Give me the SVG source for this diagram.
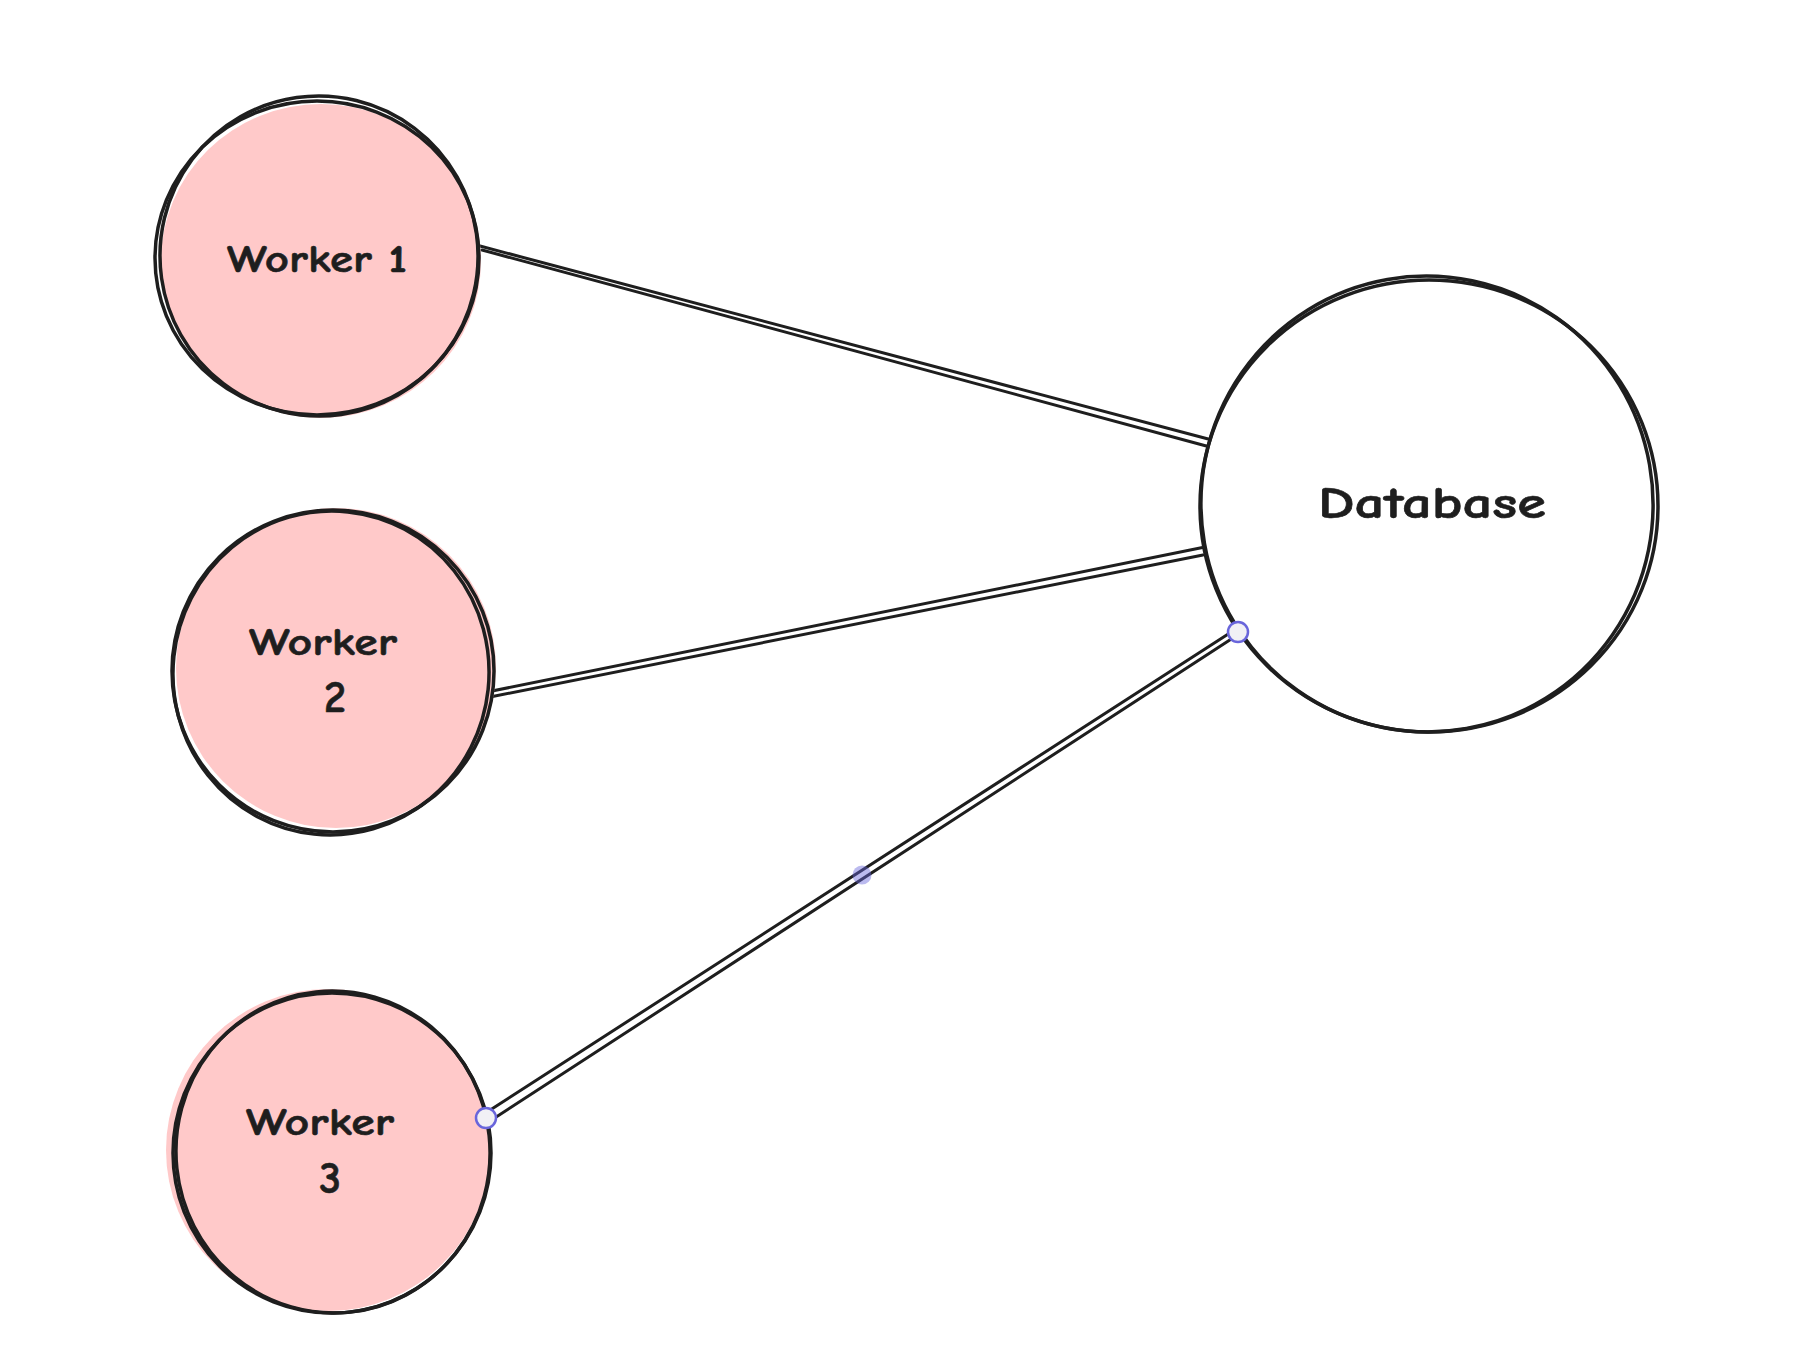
<svg xmlns="http://www.w3.org/2000/svg" width="1796" height="1350" viewBox="0 0 1796 1350">
<style>
.fill{fill:#ffc9c9;stroke:none}
.ol{fill:none;stroke:#1e1e1e;stroke-width:3.5;stroke-linecap:round}
.ln{fill:none;stroke:#1e1e1e;stroke-width:3;stroke-linecap:round}
.lbl{font-family:"Comic Neue","Noto Sans","Liberation Sans",sans-serif;font-weight:700;fill:#1e1e1e;stroke:#1e1e1e;stroke-width:0.6;text-anchor:middle}
.w{font-size:38px}
.num{font-size:44px}
.db{font-size:44px}
.hd{fill:#f1f0f5;stroke:#6965db;stroke-width:2.5}
.mid{fill:#6965db;fill-opacity:0.45;stroke:none}
</style>
<rect width="1796" height="1350" fill="#ffffff"/>
<g id="connectors">
<path class="ln" d="M480 246 L1212 440"/>
<path class="ln" d="M482 250 L1210 447"/>
<path class="ln" d="M487 692 L1205 547"/>
<path class="ln" d="M490 697 L1203 555"/>
<path class="ln" d="M484 1114 L1236 629"/>
<path class="ln" d="M490 1121 L1239 634"/>
</g>
<g id="worker1">
<ellipse class="fill" cx="321" cy="261" rx="160" ry="157"/>
<ellipse class="ol" cx="317" cy="258" rx="162" ry="157"/>
<ellipse class="ol" cx="319" cy="256" rx="159" ry="160" transform="rotate(-8 319 256)"/>
<text class="lbl w" x="317" y="272" textLength="180" lengthAdjust="spacingAndGlyphs">Worker 1</text>
</g>
<g id="worker2">
<ellipse class="fill" cx="336" cy="668" rx="160" ry="160"/>
<ellipse class="ol" cx="333" cy="671" rx="161" ry="161"/>
<ellipse class="ol" cx="331" cy="673" rx="158" ry="162" transform="rotate(6 331 673)"/>
<text class="lbl w" x="323" y="655" textLength="148" lengthAdjust="spacingAndGlyphs">Worker</text>
<text class="lbl num" x="335" y="712">2</text>
</g>
<g id="worker3">
<ellipse class="fill" cx="328" cy="1150" rx="162" ry="161"/>
<ellipse class="ol" cx="332" cy="1153" rx="159" ry="160"/>
<ellipse class="ol" cx="333" cy="1152" rx="157" ry="161" transform="rotate(-6 333 1152)"/>
<text class="lbl w" x="320" y="1135" textLength="148" lengthAdjust="spacingAndGlyphs">Worker</text>
<text class="lbl num" x="330" y="1193">3</text>
</g>
<g id="database">
<ellipse cx="1429" cy="506" rx="229" ry="226" fill="#ffffff" stroke="none"/>
<ellipse class="ol" cx="1429" cy="506" rx="229" ry="226"/>
<ellipse class="ol" cx="1427" cy="504" rx="226" ry="228" transform="rotate(-10 1427 504)"/>
<text class="lbl db" x="1432" y="518" textLength="228" lengthAdjust="spacingAndGlyphs">Database</text>
</g>
<g id="handles">
<circle class="hd" cx="486" cy="1118" r="10"/>
<circle class="hd" cx="1238" cy="632" r="10"/>
<circle class="mid" cx="862" cy="875" r="9.5"/>
</g>
</svg>
